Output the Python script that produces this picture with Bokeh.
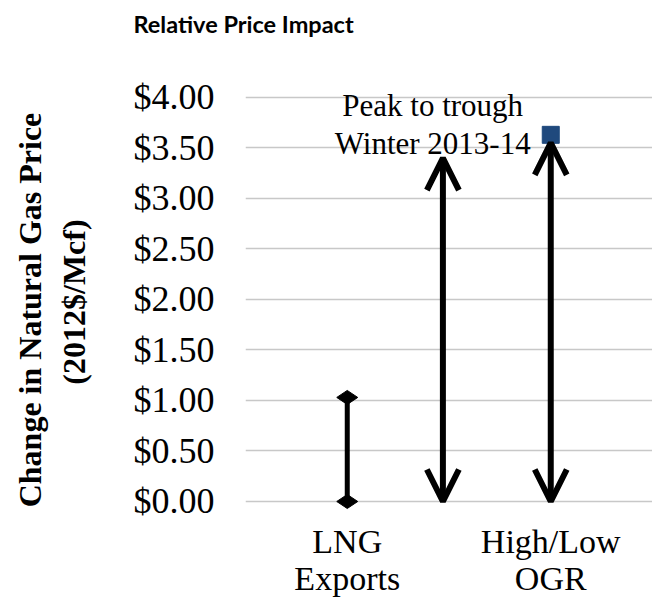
from bokeh.plotting import figure
from bokeh.models import (Range1d, FixedTicker, NumeralTickFormatter, Arrow, OpenHead,
                          ColumnDataSource, Title)
from bokeh.core.properties import value
from bokeh.embed import file_html
from bokeh.resources import INLINE

# ---- data ----
title_text = "Relative Price Impact"
NB = "\u00a0"
y_title = NB * 3 + "Change in Natural Gas Price\n" + NB * 5 + "(2012$/Mcf)"
categories = ["LNG\nExports", "High/Low\nOGR"]
y_ticks = [0.0, 0.5, 1.0, 1.5, 2.0, 2.5, 3.0, 3.5, 4.0]

lng_low = [0.0]
lng_high = [1.03]

arrow_x = [0.97, 1.5]
arrow_low = [0.0, 0.0]
arrow_high = [3.40, 3.55]

peak_x = [1.5]
peak_y = [3.63]

note_lines = ["Peak to trough", "Winter 2013-14"]
note_x = [0.92, 0.92]
note_y = [3.92, 3.545]

cat_x = [i + 0.5 for i in range(len(categories))]
label_y = [-0.21] * len(categories)

SERIF = "Liberation Serif"

p = figure(width=652, height=603, output_backend="svg", toolbar_location=None,
           x_range=Range1d(0, 2.0), y_range=Range1d(-1.010, 4.564),
           x_axis_location=None, min_border_left=245, min_border_right=0,
           min_border_top=40, min_border_bottom=0)
p.outline_line_color = None
p.xgrid.visible = False
p.ygrid.ticker = FixedTicker(ticks=y_ticks)
p.ygrid.grid_line_color = "#c8c8c8"
p.ygrid.grid_line_width = 1.5

ax = p.yaxis[0]
ax.ticker = FixedTicker(ticks=y_ticks)
ax.formatter = NumeralTickFormatter(format="$0.00")
ax.axis_line_color = None
ax.major_tick_line_color = None
ax.minor_tick_line_color = None
ax.major_label_text_font = SERIF
ax.major_label_text_font_size = "36px"
ax.major_label_text_color = "#000000"
ax.major_label_standoff = 25
ax.axis_label = y_title
ax.axis_label_text_font = SERIF
ax.axis_label_text_font_style = "bold"
ax.axis_label_text_font_size = "32px"
ax.axis_label_text_color = "#000000"
ax.axis_label_standoff = 39

# LNG exports range
p.segment(x0=[cat_x[0]], y0=lng_low, x1=[cat_x[0]], y1=lng_high,
          line_color="black", line_width=5)
p.scatter(x=[cat_x[0], cat_x[0]], y=lng_low + lng_high, marker="diamond",
          size=21, angle=1.5708, color="black")

# peak marker
p.scatter(x=peak_x, y=peak_y, marker="square", size=17, color="#1F497D")

# double arrows
src = ColumnDataSource(dict(x=arrow_x, y0=arrow_low, y1=arrow_high))
p.add_layout(Arrow(x_start="x", y_start="y0", x_end="x", y_end="y1", source=src,
                   line_width=6, line_color="black",
                   start=OpenHead(size=32, line_width=6, line_color="black"),
                   end=OpenHead(size=32, line_width=6, line_color="black")))

# note text
p.text(x=note_x, y=note_y, text=note_lines, text_align="center",
       text_baseline="alphabetic", text_font=value(SERIF),
       text_font_size="31px", text_color="black")

# category labels
p.text(x=cat_x, y=label_y, text=categories, text_align="center",
       text_baseline="top", text_font=value(SERIF), text_font_size="34px",
       text_line_height=1.0, text_color="black")

# title
p.add_layout(Title(text=title_text, align="left", offset=-112, text_font="Lato",
                   text_font_style="bold", text_font_size="23.5px",
                   text_color="black", standoff=6), "above")

open("out.html", "w").write(file_html(p, INLINE))
